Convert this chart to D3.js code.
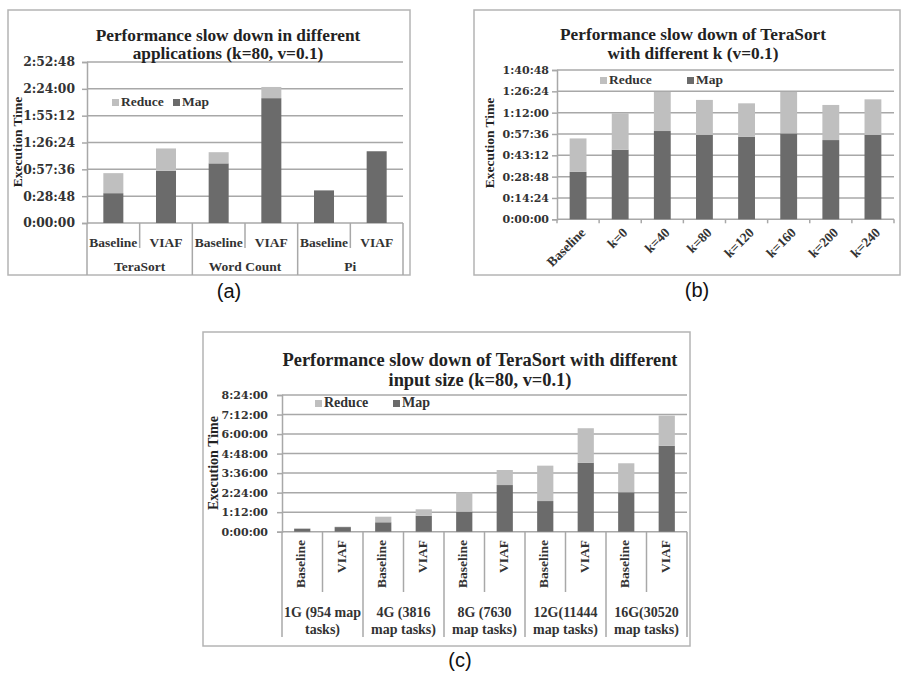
<!DOCTYPE html>
<html>
<head>
<meta charset="UTF-8">
<script src="https://d3js.org/d3.v7.min.js"></script>
<style>
  body { margin: 0; background: #fff; }
  svg { font-family: "Liberation Serif", serif; font-weight: bold; }
  .cap { font-family: "Liberation Sans", Arial, sans-serif; font-weight: normal; }
</style>
</head>
<body>
<div id="chart"></div>
<script>
// values in minutes
const appCats = ["Baseline", "VIAF", "Baseline", "VIAF", "Baseline", "VIAF"];
const appGroups = ["TeraSort", "Word Count", "Pi"];
const appMap = [32, 56, 64, 134, 35, 77];
const appReduce = [21.5, 24, 12, 12, 0, 0];

const kCats = ["Baseline", "k=0", "k=40", "k=80", "k=120", "k=160", "k=200", "k=240"];
const kMap = [32, 47, 59.6, 57, 55.8, 58, 53.5, 57];
const kReduce = [22.6, 24.6, 26.4, 23.6, 22.5, 28, 23.7, 24];

const sizeCats = ["Baseline", "VIAF", "Baseline", "VIAF", "Baseline", "VIAF", "Baseline", "VIAF", "Baseline", "VIAF"];
const sizeGroups = [["1G (954 map", "tasks)"], ["4G (3816", "map tasks)"], ["8G (7630", "map tasks)"], ["12G(11444", "map tasks)"], ["16G(30520", "map tasks)"]];
const sizeMap = [11, 17, 34.7, 59, 74, 172, 113, 254.5, 145.3, 317];
const sizeReduce = [1.5, 1.5, 20.6, 23.6, 71.5, 55.5, 130.5, 127, 107, 111];

const seriesNames = ["Reduce", "Map"];

const W = 904, H = 675;
const mapColor = "#6b6b6b", reduceColor = "#bfbfbf", gridColor = "#a8a8a8";

const svg = d3.select("#chart").append("svg").attr("width", W).attr("height", H);

function fmt(min) {
  const s = Math.round(min * 60);
  const h = Math.floor(s / 3600), m = Math.floor((s % 3600) / 60), sec = s % 60;
  return h + ":" + String(m).padStart(2, "0") + ":" + String(sec).padStart(2, "0");
}

function panel(c) {
  const g = svg.append("g");
  g.append("rect").attr("x", c.frame[0]).attr("y", c.frame[1])
    .attr("width", c.frame[2] - c.frame[0]).attr("height", c.frame[3] - c.frame[1])
    .attr("fill", "none").attr("stroke", "#b4b4b4").attr("stroke-width", 1.5);

  const x = d3.scaleBand().domain(d3.range(c.cats.length))
    .range([c.plot[0], c.plot[2]]).paddingInner(c.pad).paddingOuter(c.pad / 2);
  const y = d3.scaleLinear().domain([0, c.yMax]).range([c.plot[3], c.plot[1]]);
  const ticks = d3.range(0, c.yMax + 0.01, c.step);

  // gridlines
  g.selectAll(".grid").data(ticks).join("line")
    .attr("x1", c.plot[0]).attr("x2", c.plot[2])
    .attr("y1", d => y(d)).attr("y2", d => y(d))
    .attr("stroke", gridColor).attr("stroke-width", 1.5);

  // y axis
  const ya = g.append("g").attr("transform", `translate(${c.plot[0]},0)`)
    .call(d3.axisLeft(y).tickValues(ticks).tickFormat(fmt).tickSizeOuter(0).tickSize(5).tickPadding(c.tickPad));
  ya.selectAll("line,path").attr("stroke", gridColor).attr("stroke-width", 1.5);
  ya.selectAll("text").attr("font-family", "DejaVu Serif").attr("font-weight", "bold")
    .attr("font-size", c.tickFont).attr("fill", "#333");

  // bars
  const stack = c.cats.map((_, i) => ({ i, map: c.map[i], reduce: c.reduce[i] }));
  const bw = x.bandwidth();
  g.selectAll(".map").data(stack).join("rect")
    .attr("x", d => x(d.i)).attr("width", bw)
    .attr("y", d => y(d.map)).attr("height", d => y(0) - y(d.map))
    .attr("fill", mapColor);
  g.selectAll(".red").data(stack.filter(d => d.reduce > 0)).join("rect")
    .attr("x", d => x(d.i)).attr("width", bw)
    .attr("y", d => y(d.map + d.reduce)).attr("height", d => y(d.map) - y(d.map + d.reduce))
    .attr("fill", reduceColor);

  // title
  c.title.forEach((t, k) => {
    g.append("text").attr("x", c.titleX).attr("y", c.titleY + k * c.titleLH)
      .attr("text-anchor", "middle").attr("font-size", c.titleFont).attr("fill", "#222").text(t);
  });

  // y title
  g.append("text").attr("transform", `translate(${c.yTitle[0]},${c.yTitle[1]}) rotate(-90)`)
    .attr("text-anchor", "middle").attr("dominant-baseline", "middle")
    .attr("font-size", c.yTitleFont).attr("fill", "#222").text("Execution Time");

  // legend
  const cols = [reduceColor, mapColor];
  seriesNames.forEach((n, k) => {
    const [lx, ly] = c.legend[k];
    g.append("rect").attr("x", lx).attr("y", ly - 4).attr("width", 7).attr("height", 7).attr("fill", cols[k]);
    g.append("text").attr("x", lx + 9).attr("y", ly).attr("dominant-baseline", "middle")
      .attr("font-size", c.legendFont).attr("fill", "#333").text(n);
  });

  const y0 = c.plot[3];
  const step = x.step();
  if (c.mode === "rot45") {
    g.selectAll(".xt").data(d3.range(c.cats.length + 1)).join("line")
      .attr("x1", i => c.plot[0] + i * step).attr("x2", i => c.plot[0] + i * step)
      .attr("y1", y0).attr("y2", y0 + 4).attr("stroke", gridColor).attr("stroke-width", 1.5);
    g.selectAll(".xl").data(c.cats).join("text")
      .attr("transform", (d, i) => `translate(${x(i) + bw / 2 + 6},${y0 + 12}) rotate(-45)`)
      .attr("text-anchor", "end").attr("dominant-baseline", "middle")
      .attr("font-size", c.catFont).attr("fill", "#333").text(d => d);
  } else {
    const per = c.cats.length / c.groups.length;
    // separators between sub categories
    g.selectAll(".sep").data(d3.range(c.cats.length + 1)).join("line")
      .attr("x1", i => c.plot[0] + i * step).attr("x2", i => c.plot[0] + i * step)
      .attr("y1", y0).attr("y2", i => i % per === 0 ? c.groupBottom : c.subBottom)
      .attr("stroke", gridColor).attr("stroke-width", 1.5);
    if (c.mode === "flat") {
      g.selectAll(".xl").data(c.cats).join("text")
        .attr("x", (d, i) => x(i) + bw / 2).attr("y", c.subY)
        .attr("text-anchor", "middle").attr("font-size", c.catFont).attr("fill", "#333").text(d => d);
    } else {
      g.selectAll(".xl").data(c.cats).join("text")
        .attr("transform", (d, i) => `translate(${x(i) + bw / 2},${c.subY}) rotate(-90)`)
        .attr("text-anchor", "end").attr("dominant-baseline", "middle")
        .attr("font-size", c.catFont).attr("fill", "#333").text(d => d);
    }
    c.groups.forEach((gl, k) => {
      const cx = c.plot[0] + (k + 0.5) * per * step;
      const lines = Array.isArray(gl) ? gl : [gl];
      lines.forEach((ln, j) => {
        g.append("text").attr("x", cx).attr("y", c.groupY + j * (c.groupLH || 0))
          .attr("text-anchor", "middle").attr("font-size", c.groupFont).attr("fill", "#333").text(ln);
      });
    });
  }

  svg.append("text").attr("class", "cap").attr("x", c.cap[0]).attr("y", c.cap[1])
    .attr("text-anchor", "middle").attr("dominant-baseline", "middle")
    .attr("font-size", 20).attr("fill", "#111").text(c.capText);
}

panel({
  frame: [8, 10, 410, 275], plot: [87, 62, 403, 223], yMax: 172.8, step: 28.8, pad: 0.62,
  cats: appCats, groups: appGroups, map: appMap, reduce: appReduce, mode: "flat",
  subBottom: 248, groupBottom: 275, subY: 247, groupY: 271, catFont: 13.5, groupFont: 13.5,
  title: ["Performance slow down in different", "applications (k=80, v=0.1)"],
  titleX: 228, titleY: 41, titleLH: 18, titleFont: 17.3,
  yTitle: [19, 142], yTitleFont: 13.5, tickFont: 12.3, tickPad: 7,
  legend: [[112, 103], [173, 103]], legendFont: 13.5,
  cap: [229, 293], capText: "(a)"
});

panel({
  frame: [474, 10, 900, 275], plot: [557, 70, 894, 219.3], yMax: 100.8, step: 14.4, pad: 0.6,
  cats: kCats, map: kMap, reduce: kReduce, mode: "rot45", catFont: 13.5,
  title: ["Performance slow down of TeraSort", "with different k (v=0.1)"],
  titleX: 693, titleY: 40, titleLH: 18.5, titleFont: 17.3,
  yTitle: [491, 143], yTitleFont: 13.5, tickFont: 11, tickPad: 3,
  legend: [[600, 81], [687, 81]], legendFont: 13.5,
  cap: [697, 292], capText: "(b)"
});

panel({
  frame: [203, 332, 690, 646], plot: [282, 395, 687, 531.7], yMax: 504, step: 72, pad: 0.6,
  cats: sizeCats, groups: sizeGroups, map: sizeMap, reduce: sizeReduce, mode: "rot90",
  subBottom: 592, groupBottom: 637, subY: 540, groupY: 617, groupLH: 16.5, catFont: 13.5, groupFont: 14,
  title: ["Performance slow down of TeraSort with different", "input size (k=80, v=0.1)"],
  titleX: 480, titleY: 366, titleLH: 20, titleFont: 18.4,
  yTitle: [215, 463], yTitleFont: 14, tickFont: 11, tickPad: 9,
  legend: [[315, 404], [393, 404]], legendFont: 14,
  cap: [460, 662], capText: "(c)"
});
</script>
</body>
</html>
